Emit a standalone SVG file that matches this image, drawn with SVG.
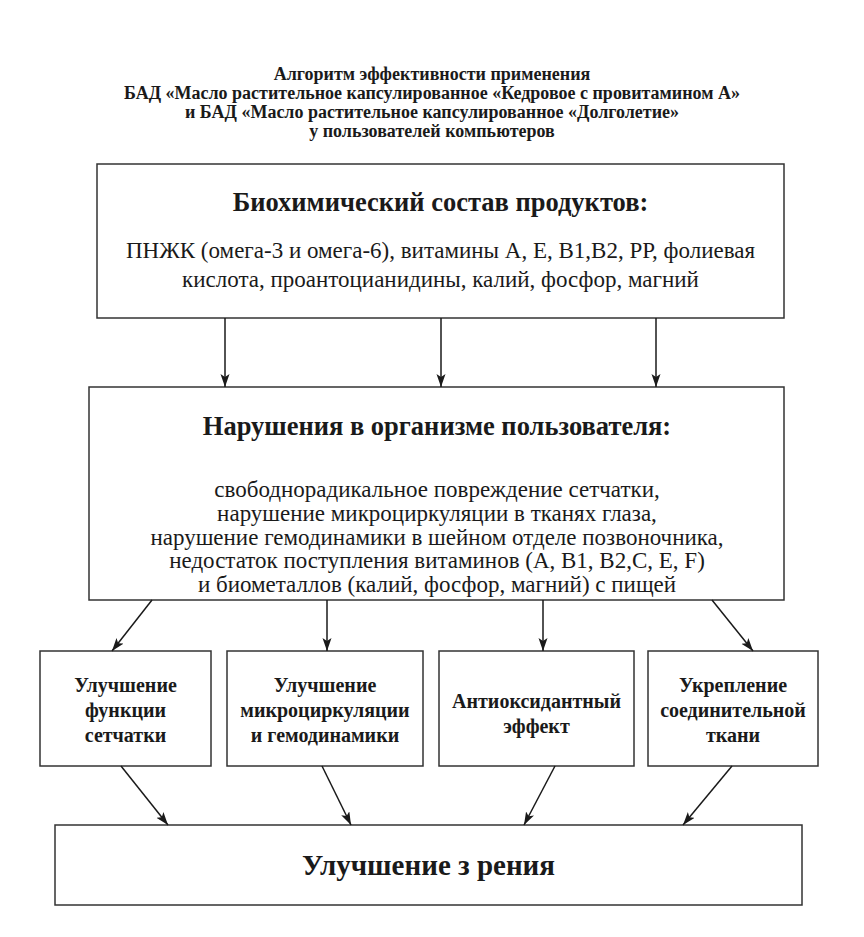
<svg xmlns="http://www.w3.org/2000/svg" width="864" height="937" viewBox="0 0 864 937">
<style>
.box{fill:#fff;stroke:#333;stroke-width:1.5}
.t{font-family:"Liberation Serif","Times New Roman",serif;fill:#1a1a1a;text-anchor:middle}
.b{font-weight:bold}
.title{font-size:18px}
.h{font-size:26.5px}
.r{font-size:23px}
.s{font-size:20px}
.big{font-size:29px}
.c{stroke:#1a1a1a;stroke-width:1.5;fill:none;marker-end:url(#ah)}
</style>
<defs>
<marker id="ah" markerUnits="userSpaceOnUse" markerWidth="14" markerHeight="10" refX="13" refY="4.5" orient="auto">
<path d="M0,0 L13,4.5 L0,9 L3,4.5 z" fill="#1a1a1a"/>
</marker>
</defs>
<rect width="864" height="937" fill="#fff"/>
<g id="title" class="t b title">
<text x="432" y="80">Алгоритм эффективности применения</text>
<text x="432" y="99">БАД «Масло растительное капсулированное «Кедровое с провитамином А»</text>
<text x="432" y="118">и БАД «Масло растительное капсулированное «Долголетие»</text>
<text x="432" y="137">у пользователей компьютеров</text>
</g>
<g id="node-composition">
<rect class="box" x="97" y="164" width="687" height="154"/>
<text class="t b h" x="440.5" y="211">Биохимический состав продуктов:</text>
<text class="t r" x="440.5" y="258">ПНЖК (омега-3 и омега-6), витамины А, Е, В1,В2, РР, фолиевая</text>
<text class="t r" x="440.5" y="287">кислота, проантоцианидины, калий, фосфор, магний</text>
</g>
<g id="node-disorders">
<rect class="box" x="89" y="387" width="695" height="213"/>
<text class="t b h" x="437" y="435">Нарушения в организме пользователя:</text>
<text class="t r" x="437" y="497">свободнорадикальное повреждение сетчатки,</text>
<text class="t r" x="437" y="521">нарушение микроциркуляции в тканях глаза,</text>
<text class="t r" x="437" y="545">нарушение гемодинамики в шейном отделе позвоночника,</text>
<text class="t r" x="437" y="568">недостаток поступления витаминов (А, В1, В2,С, Е, F)</text>
<text class="t r" x="437" y="592">и биометаллов (калий, фосфор, магний) с пищей</text>
</g>
<g id="node-retina">
<rect class="box" x="40" y="651" width="171" height="115"/>
<text class="t b s" x="125.5" y="692">Улучшение</text>
<text class="t b s" x="125.5" y="717">функции</text>
<text class="t b s" x="125.5" y="742">сетчатки</text>
</g>
<g id="node-microcirculation">
<rect class="box" x="227" y="651" width="196" height="115"/>
<text class="t b s" x="325" y="692">Улучшение</text>
<text class="t b s" x="325" y="717">микроциркуляции</text>
<text class="t b s" x="325" y="742">и гемодинамики</text>
</g>
<g id="node-antioxidant">
<rect class="box" x="439" y="651" width="195" height="115"/>
<text class="t b s" x="536.5" y="708">Антиоксидантный</text>
<text class="t b s" x="536.5" y="733">эффект</text>
</g>
<g id="node-connective">
<rect class="box" x="648" y="651" width="170" height="115"/>
<text class="t b s" x="733" y="692">Укрепление</text>
<text class="t b s" x="733" y="717">соединительной</text>
<text class="t b s" x="733" y="742">ткани</text>
</g>
<g id="node-vision">
<rect class="box" x="55" y="825" width="747" height="80"/>
<text class="t b big" x="428.5" y="875">Улучшение з рения</text>
</g>
<g id="connectors">
<line class="c" x1="225" y1="318" x2="225" y2="387"/>
<line class="c" x1="441" y1="318" x2="441" y2="387"/>
<line class="c" x1="656" y1="318" x2="656" y2="387"/>
<line class="c" x1="152" y1="600" x2="112" y2="651"/>
<line class="c" x1="327" y1="600" x2="327" y2="651"/>
<line class="c" x1="543" y1="600" x2="543" y2="651"/>
<line class="c" x1="712" y1="600" x2="753" y2="651"/>
<line class="c" x1="121" y1="766" x2="168" y2="825"/>
<line class="c" x1="322" y1="766" x2="351" y2="825"/>
<line class="c" x1="555" y1="766" x2="524" y2="825"/>
<line class="c" x1="732" y1="766" x2="683" y2="825"/>
</g>
</svg>
